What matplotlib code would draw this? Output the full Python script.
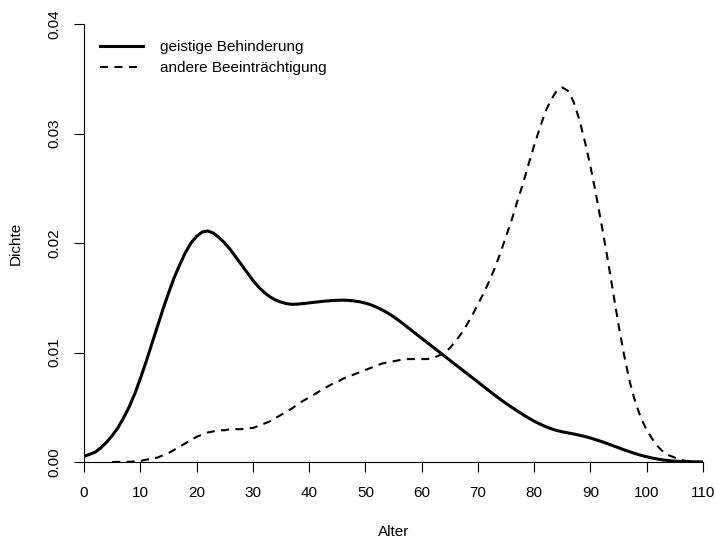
import matplotlib
matplotlib.use("Agg")
import matplotlib.pyplot as plt

plt.rcParams['font.family'] = ['Liberation Sans', 'DejaVu Sans']
plt.rcParams['lines.scale_dashes'] = False

# Data (age vs density), one value per year of age
age_solid = list(range(0, 111))
dens_geistig = [
    0.00052, 0.0007, 0.0009, 0.0013, 0.0018, 0.0024, 0.0031, 0.0040, 0.0050, 0.0062,
    0.0076, 0.0091, 0.0107, 0.0123, 0.0139, 0.0154, 0.0168, 0.0180, 0.0191, 0.0200,
    0.0206, 0.0210, 0.0211, 0.0209, 0.0205, 0.0200, 0.0194, 0.0187, 0.0180, 0.0173,
    0.0166, 0.0160, 0.0155, 0.0151, 0.0148, 0.01460, 0.01446, 0.01440, 0.01442, 0.01447,
    0.01453, 0.01459, 0.01465, 0.01470, 0.01474, 0.01477, 0.01478, 0.01476, 0.01471, 0.01463,
    0.01451, 0.01435, 0.01414, 0.01389, 0.01360, 0.01327, 0.0129, 0.0125, 0.0121, 0.0117,
    0.0113, 0.0109, 0.0105, 0.0101, 0.0097, 0.0093, 0.0089, 0.0085, 0.0081, 0.0077,
    0.0073, 0.0069, 0.0065, 0.0061, 0.00572, 0.00535, 0.00500, 0.00466, 0.00433, 0.00402,
    0.00373, 0.00347, 0.00324, 0.00304, 0.00288, 0.00276, 0.00266, 0.00256, 0.00245, 0.00233,
    0.00219, 0.00203, 0.00186, 0.00168, 0.00149, 0.00130, 0.00111, 0.00093, 0.00076, 0.00061,
    0.00048, 0.00036, 0.00026, 0.00018, 0.00012, 0.00008, 0.00005, 0.00003, 0.00002, 0.00001,
    0.0]

age_dashed = list(range(5, 111))
dens_andere = [
    0.0, 0.00001, 0.00001, 0.00002, 0.00005,
    0.0001, 0.0002, 0.0003, 0.0004, 0.0006, 0.0008, 0.0011, 0.0014, 0.0017, 0.0020,
    0.0023, 0.0025, 0.0027, 0.0028, 0.0029, 0.0029, 0.0030, 0.0030, 0.0030, 0.0031,
    0.0031, 0.0033, 0.0035, 0.0037, 0.0040, 0.0043, 0.0046, 0.0049, 0.0053, 0.0056,
    0.0059, 0.0062, 0.0065, 0.0068, 0.0071, 0.0073, 0.0076, 0.0078, 0.0080, 0.0082,
    0.0084, 0.0086, 0.0088, 0.0090, 0.0091, 0.0092, 0.0093, 0.0094, 0.0094, 0.0094,
    0.0094, 0.0094, 0.0095, 0.0097, 0.0100, 0.0104, 0.0110, 0.0117, 0.0125, 0.0134,
    0.0144, 0.0154, 0.0165, 0.0177, 0.0191, 0.0206, 0.0221, 0.0238, 0.0254, 0.0272,
    0.0289, 0.0305, 0.0320, 0.0331, 0.0339, 0.0342, 0.0339, 0.0329, 0.0313, 0.0293,
    0.0270, 0.0244, 0.0216, 0.0187, 0.0156, 0.0125, 0.0097, 0.0073, 0.0054, 0.0040,
    0.0029, 0.0021, 0.0014, 0.0009, 0.0006, 0.0004, 0.0002, 0.0001, 0.00005, 0.00002,
    0.0]

labels = ["geistige Behinderung", "andere Beeinträchtigung"]
x_ticks = list(range(0, 111, 10))
y_ticks = [0.00, 0.01, 0.02, 0.03, 0.04]
y_ticklabels = ["0.00", "0.01", "0.02", "0.03", "0.04"]

fig = plt.figure(figsize=(7.17, 5.40), dpi=100)
ax = fig.add_axes([84/717, 1-462/540, (703-84)/717, (462-24)/540])

ax.plot(age_solid, dens_geistig, color='black', lw=2.2, solid_joinstyle='round',
        label=labels[0])
ax.plot(age_dashed, dens_andere, color='black', lw=1.5, dashes=(5.8, 4.6),
        label=labels[1])

ax.set_xlim(0, 110)
ax.set_ylim(0, 0.04)
for s in ['top', 'right']:
    ax.spines[s].set_visible(False)
for s in ['left', 'bottom']:
    ax.spines[s].set_linewidth(0.8)

ax.set_xticks(x_ticks)
ax.set_xticklabels([str(t) for t in x_ticks])
ax.set_yticks(y_ticks)
ax.set_yticklabels(y_ticklabels, rotation=90, va='center')
ax.tick_params(axis='both', length=7, width=0.8, labelsize=11, direction='out')
ax.tick_params(axis='x', pad=10)
ax.tick_params(axis='y', pad=9)

ax.set_xlabel("Alter", fontsize=11, labelpad=18)
ax.set_ylabel("Dichte", fontsize=11, labelpad=18)

leg = ax.legend(loc='upper left', bbox_to_anchor=(88/717, 1-28/540),
                bbox_transform=fig.transFigure, frameon=False, fontsize=11,
                handlelength=2.8, handletextpad=1.1, labelspacing=0.45,
                borderpad=0.3)

fig.savefig("out.png", dpi=100)
